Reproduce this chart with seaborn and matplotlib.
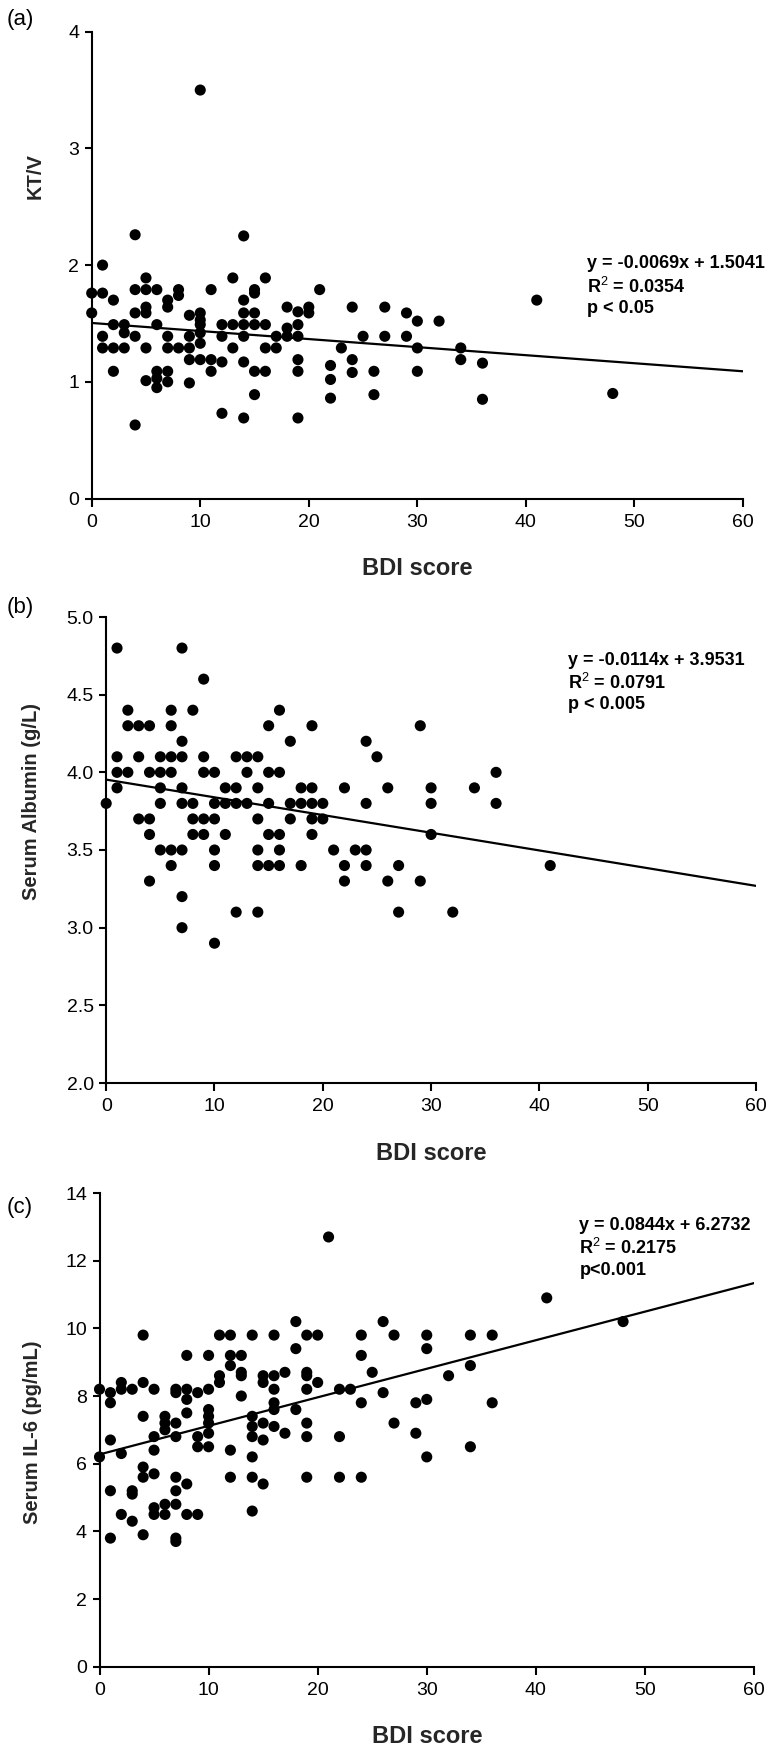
import numpy as np
import matplotlib
matplotlib.use("Agg")
import matplotlib.pyplot as plt
from matplotlib.ticker import FormatStrFormatter
import seaborn as sns

# ---------------- data ----------------
# (a) KT/V vs BDI score
bdi_a = [0, 0, 1, 1, 1, 1, 2, 2, 2, 2, 3, 3, 3, 4, 4, 4, 4, 4,
         5, 5, 5, 5, 5, 5, 6, 6, 6, 6, 6, 7, 7, 7, 7, 7, 7, 8, 8, 8,
         9, 9, 9, 9, 9, 10, 10, 10, 10, 10, 10, 10, 11, 11, 11,
         12, 12, 12, 12, 13, 13, 13, 14, 14, 14, 14, 14, 14, 14,
         15, 15, 15, 15, 15, 15, 16, 16, 16, 16, 17, 17, 18, 18, 18,
         19, 19, 19, 19, 19, 19, 20, 20, 21, 22, 22, 22, 23, 24, 24, 24,
         25, 26, 26, 27, 27, 29, 29, 30, 30, 30, 32, 34, 34, 36, 36, 41, 48]
ktv = [1.76, 1.59, 2.00, 1.76, 1.39, 1.29, 1.70, 1.49, 1.29, 1.09, 1.49, 1.42, 1.29,
       2.26, 1.79, 1.59, 1.39, 0.63,
       1.89, 1.79, 1.64, 1.59, 1.29, 1.01, 1.79, 1.49, 1.09, 1.03, 0.95,
       1.70, 1.64, 1.39, 1.29, 1.09, 1.00, 1.79, 1.74, 1.29,
       1.57, 1.39, 1.29, 1.19, 0.99, 3.50, 1.59, 1.53, 1.49, 1.42, 1.33, 1.19,
       1.79, 1.19, 1.09,
       1.49, 1.39, 1.17, 0.73, 1.89, 1.49, 1.29, 2.25, 1.70, 1.59, 1.49, 1.39, 1.17, 0.69,
       1.79, 1.76, 1.59, 1.49, 1.09, 0.89, 1.89, 1.49, 1.29, 1.09, 1.39, 1.29, 1.64, 1.46, 1.39,
       1.60, 1.49, 1.39, 1.19, 1.09, 0.69, 1.64, 1.59, 1.79, 1.14, 1.02, 0.86, 1.29, 1.64, 1.19, 1.08,
       1.39, 1.09, 0.89, 1.64, 1.39, 1.59, 1.39, 1.52, 1.29, 1.09, 1.52, 1.29, 1.19, 1.16, 0.85, 1.70, 0.90]

# (b) Serum albumin vs BDI score
bdi_b = [0,
         1, 1, 1, 1,
         2, 2, 2,
         3, 3, 3,
         4, 4, 4, 4, 4,
         5, 5, 5, 5, 5,
         6, 6, 6, 6, 6, 6,
         7, 7, 7, 7, 7, 7, 7, 7,
         8, 8, 8, 8,
         9, 9, 9, 9, 9,
         10, 10, 10, 10, 10, 10,
         11, 11, 11,
         12, 12, 12, 12,
         13, 13, 13,
         14, 14, 14, 14, 14, 14,
         15, 15, 15, 15, 15,
         16, 16, 16, 16, 16,
         17, 17, 17,
         18, 18, 18,
         19, 19, 19, 19, 19,
         20, 20,
         21,
         22, 22, 22,
         23,
         24, 24, 24, 24,
         25,
         26, 26,
         27, 27,
         29, 29,
         30, 30, 30,
         32,
         34,
         36, 36,
         41]
albumin = [3.8,
           4.8, 4.1, 4.0, 3.9,
           4.4, 4.3, 4.0,
           4.3, 4.1, 3.7,
           4.3, 4.0, 3.7, 3.6, 3.3,
           4.1, 4.0, 3.9, 3.8, 3.5,
           4.4, 4.3, 4.1, 4.0, 3.5, 3.4,
           4.8, 4.2, 4.1, 3.9, 3.8, 3.5, 3.2, 3.0,
           4.4, 3.8, 3.7, 3.6,
           4.6, 4.1, 4.0, 3.7, 3.6,
           4.0, 3.8, 3.7, 3.5, 3.4, 2.9,
           3.9, 3.8, 3.6,
           4.1, 3.9, 3.8, 3.1,
           4.1, 4.0, 3.8,
           4.1, 3.9, 3.7, 3.5, 3.4, 3.1,
           4.3, 4.0, 3.8, 3.6, 3.4,
           4.4, 4.0, 3.6, 3.5, 3.4,
           4.2, 3.8, 3.7,
           3.9, 3.8, 3.4,
           4.3, 3.9, 3.8, 3.7, 3.6,
           3.8, 3.7,
           3.5,
           3.9, 3.4, 3.3,
           3.5,
           4.2, 3.8, 3.5, 3.4,
           4.1,
           3.9, 3.3,
           3.4, 3.1,
           4.3, 3.3,
           3.9, 3.8, 3.6,
           3.1,
           3.9,
           4.0, 3.8,
           3.4]

# (c) Serum IL-6 vs BDI score
bdi_c = [0, 0,
         1, 1, 1, 1, 1,
         2, 2, 2, 2,
         3, 3, 3, 3,
         4, 4, 4, 4, 4, 4,
         5, 5, 5, 5, 5, 5,
         6, 6, 6, 6, 6,
         7, 7, 7, 7, 7, 7, 7, 7, 7,
         8, 8, 8, 8, 8, 8,
         9, 9, 9, 9,
         10, 10, 10, 10, 10, 10, 10,
         11, 11, 11,
         12, 12, 12, 12, 12,
         13, 13, 13, 13,
         14, 14, 14, 14, 14, 14, 14,
         15, 15, 15, 15, 15,
         16, 16, 16, 16, 16, 16,
         17, 17,
         18, 18, 18,
         19, 19, 19, 19, 19, 19, 19,
         20, 20,
         21,
         22, 22, 22,
         23,
         24, 24, 24, 24,
         25,
         26, 26,
         27, 27,
         29, 29,
         30, 30, 30, 30,
         32,
         34, 34, 34,
         36, 36,
         41,
         48]
il6 = [8.2, 6.2,
       8.1, 7.8, 6.7, 5.2, 3.8,
       8.4, 8.2, 6.3, 4.5,
       8.2, 5.2, 5.1, 4.3,
       9.8, 8.4, 7.4, 5.9, 5.6, 3.9,
       8.2, 6.8, 6.4, 5.7, 4.7, 4.5,
       7.4, 7.2, 7.0, 4.8, 4.5,
       8.2, 8.1, 7.2, 6.8, 5.6, 5.2, 4.8, 3.8, 3.7,
       9.2, 8.2, 7.9, 7.5, 5.4, 4.5,
       8.1, 6.8, 6.5, 4.5,
       9.2, 8.2, 7.6, 7.4, 7.2, 6.9, 6.5,
       9.8, 8.6, 8.4,
       9.8, 9.2, 8.9, 6.4, 5.6,
       9.2, 8.7, 8.6, 8.0,
       9.8, 7.4, 7.1, 6.8, 6.2, 5.6, 4.6,
       8.6, 8.4, 7.2, 6.7, 5.4,
       9.8, 8.6, 8.2, 7.8, 7.6, 7.1,
       8.7, 6.9,
       10.2, 9.4, 7.6,
       9.8, 8.7, 8.6, 8.2, 7.2, 6.8, 5.6,
       9.8, 8.4,
       12.7,
       8.2, 6.8, 5.6,
       8.2,
       9.8, 9.2, 7.8, 5.6,
       8.7,
       10.2, 8.1,
       9.8, 7.2,
       7.8, 6.9,
       9.8, 9.4, 7.9, 6.2,
       8.6,
       9.8, 8.9, 6.5,
       9.8, 7.8,
       10.9,
       10.2]

# regression summaries printed on the chart
fit_a = (-0.0069, 1.5041)
fit_b = (-0.0114, 3.9531)
fit_c = (0.0844, 6.2732)
text_a = ["y = -0.0069x + 1.5041", r"R$^{2}$ = 0.0354", "p < 0.05"]
text_b = ["y = -0.0114x + 3.9531", r"R$^{2}$ = 0.0791", "p < 0.005"]
text_c = ["y = 0.0844x + 6.2732", r"R$^{2}$ = 0.2175", "p<0.001"]

x_ticks = [0, 10, 20, 30, 40, 50, 60]
y_ticks_a = [0, 1, 2, 3, 4]
y_ticks_b = [2.0, 2.5, 3.0, 3.5, 4.0, 4.5, 5.0]
y_ticks_c = [0, 2, 4, 6, 8, 10, 12, 14]

# ---------------- style ----------------
sns.set_theme(style="ticks")
plt.rcParams['font.family'] = ['Liberation Sans', 'DejaVu Sans']
plt.rcParams['mathtext.fontset'] = 'custom'
plt.rcParams['mathtext.rm'] = 'Liberation Sans'
plt.rcParams['mathtext.bf'] = 'Liberation Sans:bold'

W, H = 769, 1748
fig = plt.figure(figsize=(W / 100, H / 100), dpi=100)
fig.patch.set_facecolor('white')


def make_axes(left, right, top, bottom):
    return fig.add_axes([left / W, (H - bottom) / H, (right - left) / W, (bottom - top) / H])


panels = [
    dict(box=(91.7, 743.0, 31.7, 498.5), x=bdi_a, y=ktv, fit=fit_a, txt=text_a,
         yticks=y_ticks_a, fmt='%d', ylabel='KT/V', ylab=(35, 176),
         txtpos=(45.6, 1.82), tag='(a)', tagpos=(20, 20)),
    dict(box=(106.2, 756.0, 617.0, 1083.0), x=bdi_b, y=albumin, fit=fit_b, txt=text_b,
         yticks=y_ticks_b, fmt='%.1f', ylabel='Serum Albumin (g/L)', ylab=(32, 802),
         txtpos=(42.6, 4.58), tag='(b)', tagpos=(20, 607)),
    dict(box=(99.5, 754.0, 1193.0, 1666.7), x=bdi_c, y=il6, fit=fit_c, txt=text_c,
         yticks=y_ticks_c, fmt='%d', ylabel='Serum IL-6 (pg/mL)', ylab=(33, 1432),
         txtpos=(44.0, 12.38), tag='(c)', tagpos=(20, 1207)),
]

for p in panels:
    left, right, top, bottom = p['box']
    ax = make_axes(left, right, top, bottom)
    sns.scatterplot(x=p['x'], y=p['y'], ax=ax, color='black', s=64,
                    linewidth=0, edgecolor='none', clip_on=False, zorder=3)
    m, b = p['fit']
    xl = np.array([x_ticks[0], x_ticks[-1]], dtype=float)
    sns.lineplot(x=xl, y=m * xl + b, ax=ax, color='black', linewidth=1.6, zorder=2)

    ax.set_xlim(x_ticks[0], x_ticks[-1])
    ax.set_ylim(p['yticks'][0], p['yticks'][-1])
    ax.set_xticks(x_ticks)
    ax.set_yticks(p['yticks'])
    ax.yaxis.set_major_formatter(FormatStrFormatter(p['fmt']))
    sns.despine(ax=ax)
    for s in ['left', 'bottom']:
        ax.spines[s].set_linewidth(1.5)
        ax.spines[s].set_color('black')
    ax.tick_params(axis='both', direction='out', width=1.5, colors='black', labelsize=14)
    ax.tick_params(axis='x', length=6, pad=5)
    ax.tick_params(axis='y', length=5, pad=4)

    h_px = bottom - top
    w_px = right - left
    ax.set_xlabel('BDI score', fontsize=17, fontweight='bold')
    ax.xaxis.set_label_coords(0.5, -70 / h_px)
    ax.xaxis.label.set_va('center')
    ax.set_ylabel(p['ylabel'], fontsize=14.5, fontweight='bold')
    ax.yaxis.set_label_coords((p['ylab'][0] - left) / w_px, (bottom - p['ylab'][1]) / h_px)
    ax.yaxis.label.set_va('center')
    ax.yaxis.label.set_rotation_mode('default')

    tx, ty = p['txtpos']
    ax.text(tx, ty, "\n".join(p['txt']), fontsize=13, fontweight='bold',
            ha='left', va='center', linespacing=1.25, color='black')

    fig.text(p['tagpos'][0] / W, (H - p['tagpos'][1]) / H, p['tag'], fontsize=16,
             ha='center', va='center', color='black')

fig.savefig('out.png', dpi=100, facecolor='white')
